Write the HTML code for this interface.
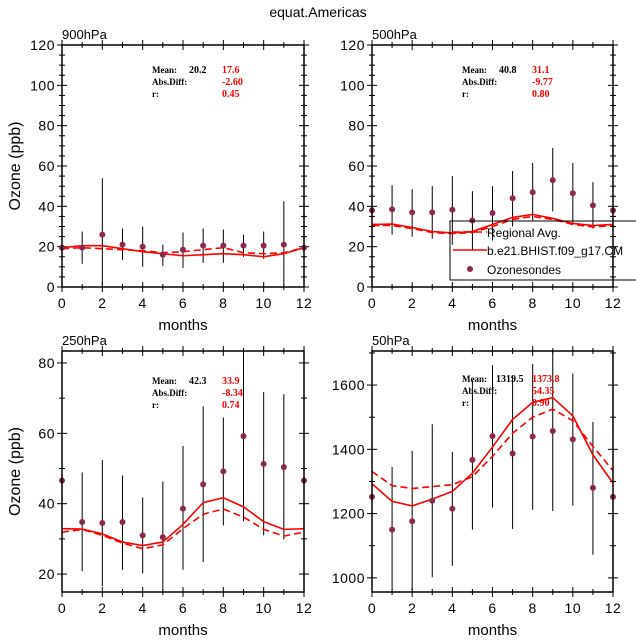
<!DOCTYPE html>
<html><head><meta charset="utf-8"><style>
html,body{margin:0;padding:0;background:#fff;}
svg{display:block;font-family:"Liberation Sans",sans-serif;}
</style></head><body>
<svg id="chart" width="636" height="641" viewBox="0 0 636 641" xmlns="http://www.w3.org/2000/svg">
<text x="318" y="17" text-anchor="middle" font-size="14" fill="#000">equat.Americas</text>
</svg>
<script>
const months = [0,1,2,3,4,5,6,7,8,9,10,11,12];
const panelNames = ["900hPa","500hPa","250hPa","50hPa"];
const obs900 = [19.5,19.5,26,21,20,16,18.5,20.5,20.5,20.5,20.5,21,19.5];
const errLo900 = [null,11.5,0,13.5,10,10.5,9.5,12,12,15,14,0,null];
const errHi900 = [null,27.5,54,29,30,21,27,29,28.5,26,27.5,42.5,null];
const solid900 = [19.5,20.5,20.5,19,17.5,16.5,15.5,16,16.5,16,15,16.5,19.5];
const dash900 = [19,19.5,19,18.5,18,17,17.5,18.5,19.5,17,16.5,17,19.5];
const obs500 = [38,38.5,37,37,38.3,33,36.7,44,47,53,46.5,40.5,38];
const errLo500 = [null,26,25,24,21,18,23,30,33,37.5,31,29,null];
const errHi500 = [null,50.5,48.5,50,55,47.5,50,57.5,61.5,69,61.5,52,null];
const solid500 = [31,31.2,29.5,27.5,26.8,27.5,31,34.5,36,34,31.5,30.5,31];
const dash500 = [30.5,30.5,29,27,26.5,27,30,33.5,35,33.5,31,29.8,30.5];
const obs250 = [46.6,34.8,34.5,34.8,31,30.5,38.6,45.5,49.2,59.2,51.3,50.4,46.6];
const errLo250 = [null,20.8,16.5,21.2,20.2,10,21.2,23.4,33.8,35,31,29.9,null];
const errHi250 = [null,48.9,52.4,48,41.8,46.3,56.4,67.7,64.5,90,71.7,71.1,null];
const solid250 = [32.9,32.8,31.4,29.1,28.1,29.1,34.1,40.3,41.7,39.1,34.9,32.7,32.9];
const dash250 = [31.9,32.7,31,28.8,27.2,28.3,32.9,37,38.5,36.2,32.7,30.8,31.9];
const obs50 = [1252,1150,1176,1240,1215,1367,1441,1387,1440,1457,1431,1280,1252];
const errLo50 = [null,900,900,1002,1038,1150,1219,1152,1212,1208,1225,1072,null];
const errHi50 = [null,1345,1395,1478,1392,1615,1662,1628,1665,1750,1636,1485,null];
const solid50 = [1293,1238,1224,1245,1269,1326,1407,1493,1546,1561,1504,1383,1295];
const dash50 = [1331,1287,1278,1284,1290,1315,1378,1450,1500,1525,1489,1409,1334];
const yTicks900 = [0,20,40,60,80,100,120];
const yTicks250 = [20,40,60,80];
const yTicks50 = [1000,1200,1400,1600];
const xTicks = [0,2,4,6,8,10,12];
const stats900 = ["20.2","17.6","-2.60","0.45"];
const stats500 = ["40.8","31.1","-9.77","0.80"];
const stats250 = ["42.3","33.9","-8.34","0.74"];
const stats50 = ["1319.5","1373.8","54.35","0.90"];

const NS="http://www.w3.org/2000/svg";
const svg=document.getElementById('chart');
function mk(tag,attrs,parent){const e=document.createElementNS(NS,tag);for(const k in attrs)e.setAttribute(k,attrs[k]);(parent||svg).appendChild(e);return e;}

const panels=[
 {name:panelNames[0],x0:62,x1:304,y0:45,y1:287,ymin:0,ymax:120,ticks:yTicks900,minor:5,obs:obs900,lo:errLo900,hi:errHi900,sol:solid900,dsh:dash900,st:stats900,ylab:true,sy:70},
 {name:panelNames[1],x0:372,x1:613,y0:45,y1:287,ymin:0,ymax:120,ticks:yTicks900,minor:5,obs:obs500,lo:errLo500,hi:errHi500,sol:solid500,dsh:dash500,st:stats500,ylab:false,sy:70},
 {name:panelNames[2],x0:62,x1:304,y0:351,y1:592,ymin:14.9,ymax:83.4,ticks:yTicks250,minor:10,obs:obs250,lo:errLo250,hi:errHi250,sol:solid250,dsh:dash250,st:stats250,ylab:true,sy:381},
 {name:panelNames[3],x0:372,x1:613,y0:351,y1:592,ymin:956,ymax:1706,ticks:yTicks50,minor:100,obs:obs50,lo:errLo50,hi:errHi50,sol:solid50,dsh:dash50,st:stats50,ylab:false,sy:379}
];

panels.forEach((p,pi)=>{
 const g=mk('g',{});
 
 
 const sx=v=>p.x0+(v-0)/12*(p.x1-p.x0);
 const sy=v=>p.y1-(v-p.ymin)/(p.ymax-p.ymin)*(p.y1-p.y0);
 const cid='clip'+pi;
 const cp=mk('clipPath',{id:cid},g);mk('rect',{x:p.x0,y:p.y0,width:p.x1-p.x0,height:p.y1-p.y0},cp);
 const ySt=Math.ceil(p.ymin/p.minor)*p.minor;
 for(let v=ySt;v<=p.ymax;v+=p.minor){const y=sy(v);const maj=p.ticks.includes(v);const L=maj?5:3;
  mk('line',{x1:p.x0-L,x2:p.x0+L,y1:y,y2:y,stroke:'#000','stroke-width':1},g);
  mk('line',{x1:p.x1-L,x2:p.x1+L,y1:y,y2:y,stroke:'#000','stroke-width':1},g);}
 p.ticks.forEach(v=>{const t=mk('text',{x:p.x0-7,y:sy(v)+5,'text-anchor':'end','font-size':14,'letter-spacing':'0.5',fill:'#000'},g);t.textContent=v;
  });
 months.forEach(m=>{const x=sx(m);const maj=m%2===0;const L=maj?5:3;
  mk('line',{x1:x,x2:x,y1:p.y1-L,y2:p.y1+L,stroke:'#000','stroke-width':1},g);
  mk('line',{x1:x,x2:x,y1:p.y0-L,y2:p.y0+L,stroke:'#000','stroke-width':1},g);});
 xTicks.forEach(m=>{const t=mk('text',{x:sx(m),y:p.y1+21,'text-anchor':'middle','font-size':14,'letter-spacing':'0.5',fill:'#000'},g);t.textContent=m;
  });
 const pt=mk('text',{x:p.x0,y:p.y0-6,'font-size':13,fill:'#000'},g);pt.textContent=p.name;
 
 const xl=mk('text',{x:(p.x0+p.x1)/2,y:p.y1+43,'text-anchor':'middle','font-size':15,fill:'#000'},g);xl.textContent='months';
 
 if(p.ylab){const yl=mk('text',{x:0,y:0,'text-anchor':'middle','font-size':16,fill:'#000',transform:`translate(20,${(p.y0+p.y1)/2}) rotate(-90)`},g);yl.textContent='Ozone (ppb)';
  }
 const cg=mk('g',{'clip-path':`url(#${cid})`},g);
 months.forEach((m,i)=>{if(p.lo[i]===null)return;const l=mk('line',{x1:sx(m),x2:sx(m),y1:sy(p.lo[i]),y2:sy(p.hi[i]),stroke:'#000','stroke-width':1},cg);
  });
 const ps=arr=>months.map((m,i)=>sx(m)+','+sy(arr[i])).join(' ');
 const sl=mk('polyline',{points:ps(p.sol),fill:'none',stroke:'#f00','stroke-width':1.6},cg);
 
 const dl=mk('polyline',{points:ps(p.dsh),fill:'none',stroke:'#f00','stroke-width':1.6,'stroke-dasharray':'7,4'},cg);
 
 months.forEach((m,i)=>{const c=mk('circle',{cx:sx(m),cy:sy(p.obs[i]),r:3,fill:'#8b2a4e'},g);
  });
 mk('rect',{x:p.x0,y:p.y0,width:p.x1-p.x0,height:p.y1-p.y0,fill:'none',stroke:'#000','stroke-width':1.5},g);
 const bx=p.x0+90, st=p.st;
 const rows=[["Mean:",st[0],st[1]],["Abs.Diff:","",st[2]],["r:","",st[3]]];
 rows.forEach((r,k)=>{const y=p.sy+k*12+3;
  const a=mk('text',{x:bx,y:y,'font-size':9,'font-weight':'bold','font-family':'Liberation Serif,serif',fill:'#000'},g);a.textContent=r[0];
  
  if(r[1]){const b=mk('text',{x:bx+(st[0].length>4?34:37),y:y,'font-size':10,'font-weight':'bold','font-family':'Liberation Serif,serif',fill:'#000'},g);b.textContent=r[1];
   }
  const c=mk('text',{x:bx+70,y:y,'font-size':10,'font-weight':'bold','font-family':'Liberation Serif,serif',fill:'#f00'},g);c.textContent=r[2];
  });
});
const lg=mk('g',{});


mk('rect',{x:450,y:221,width:190,height:59,fill:'none',stroke:'#000','stroke-width':1},lg);
mk('line',{x1:453,x2:487,y1:232,y2:232,stroke:'#f00','stroke-width':1.6,'stroke-dasharray':'7,4'},lg);
mk('line',{x1:453,x2:487,y1:250,y2:250,stroke:'#f00','stroke-width':1.6},lg);
mk('circle',{cx:470,cy:269,r:3,fill:'#8b2a4e'},lg);
[["Regional Avg.",237],["b.e21.BHIST.f09_g17.CM",255],["Ozonesondes",274]].forEach(([t,y])=>{const e=mk('text',{x:487,y:y,'font-size':12,fill:'#000'},lg);e.textContent=t;
 });
</script>
</body></html>
